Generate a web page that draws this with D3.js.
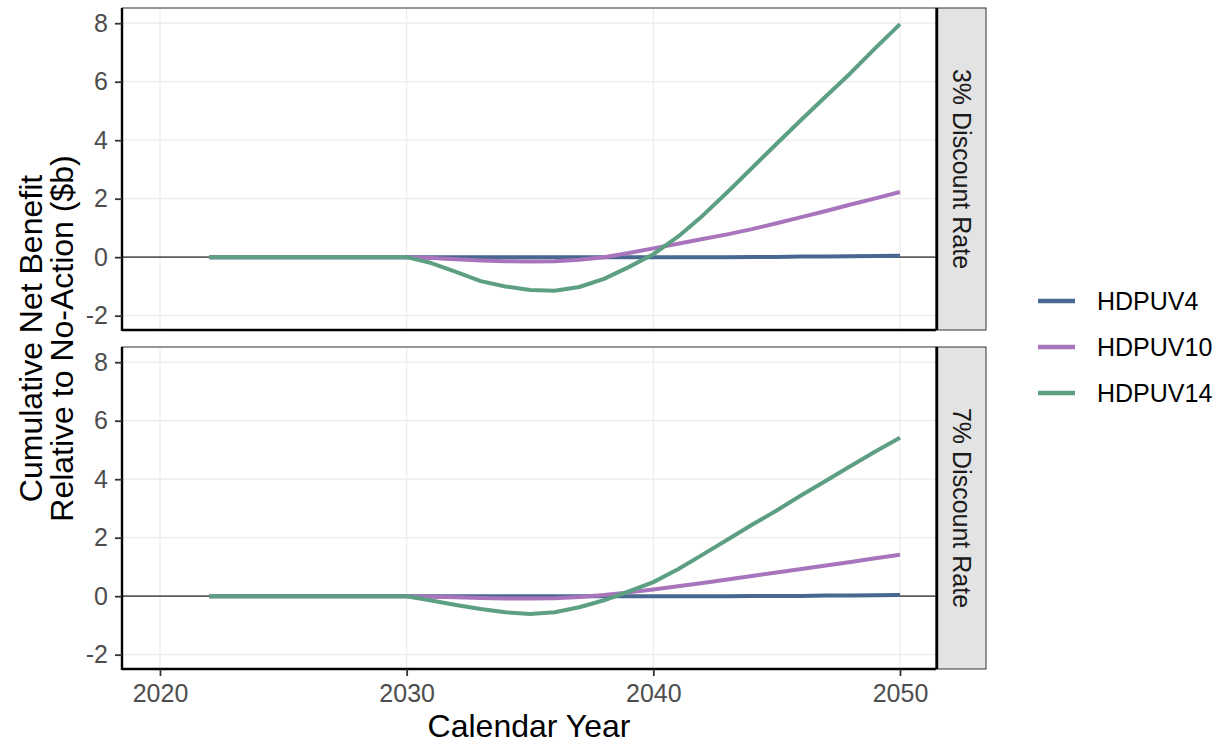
<!DOCTYPE html>
<html>
<head>
<meta charset="utf-8">
<script src="https://cdn.jsdelivr.net/npm/d3@7"></script>
<style>
  body { margin: 0; background: #fff; }
  svg { font-family: "Liberation Sans", Arial, sans-serif; }
</style>
</head>
<body>
<svg width="1221" height="744"></svg>
<script>
// data
const years = d3.range(2022, 2051);
const panels = ["3% Discount Rate", "7% Discount Rate"];
const seriesNames = ["HDPUV4", "HDPUV10", "HDPUV14"];
const colors = ["#486892", "#a874bc", "#5c9f82"];

// 3% discount rate, 2022..2050
const hdpuv4_3 = [0, 0, 0, 0, 0, 0, 0, 0, 0, 0, 0, 0, 0, 0, 0, 0, 0, 0, 0, 0, 0, 0, 0.01, 0.01, 0.02, 0.02, 0.03, 0.04, 0.05];
const hdpuv10_3 = [0, 0, 0, 0, 0, 0, 0, 0, 0, -0.03, -0.07, -0.11, -0.14, -0.15, -0.14, -0.09, 0, 0.14, 0.3, 0.46, 0.62, 0.78, 0.96, 1.16, 1.37, 1.58, 1.8, 2.01, 2.23];
const hdpuv14_3 = [0, 0, 0, 0, 0, 0, 0, 0, 0, -0.2, -0.5, -0.82, -1.0, -1.12, -1.15, -1.02, -0.74, -0.34, 0.1, 0.7, 1.42, 2.22, 3.05, 3.88, 4.7, 5.5, 6.3, 7.15, 7.97];

// 7% discount rate, 2022..2050
const hdpuv4_7 = [0, 0, 0, 0, 0, 0, 0, 0, 0, 0, 0, 0, 0, 0, 0, 0, 0, 0, 0, 0, 0, 0, 0.01, 0.01, 0.01, 0.02, 0.02, 0.03, 0.04];
const hdpuv10_7 = [0, 0, 0, 0, 0, 0, 0, 0, 0, -0.02, -0.04, -0.06, -0.08, -0.08, -0.07, -0.03, 0.04, 0.13, 0.23, 0.34, 0.45, 0.57, 0.69, 0.81, 0.93, 1.05, 1.17, 1.3, 1.42];
const hdpuv14_7 = [0, 0, 0, 0, 0, 0, 0, 0, 0, -0.15, -0.3, -0.44, -0.55, -0.61, -0.55, -0.38, -0.14, 0.16, 0.48, 0.92, 1.42, 1.93, 2.44, 2.93, 3.45, 3.95, 4.45, 4.95, 5.42];

const values = [
  [hdpuv4_3, hdpuv10_3, hdpuv14_3],
  [hdpuv4_7, hdpuv10_7, hdpuv14_7]
];

const xTicks = [2020, 2030, 2040, 2050];
const yTicks = [-2, 0, 2, 4, 6, 8];

var svg = d3.select("svg");

var left = 122, right = 936, stripW = 50;
var panelTops = [8, 347], panelH = 322;

var x = d3.scaleLinear().domain([2018.46, 2051.46]).range([left, right]);

panels.forEach((name, p) => {
  var top = panelTops[p], bottom = top + panelH;
  var y = d3.scaleLinear().domain([-2.49, 8.52]).range([bottom, top]);
  var g = svg.append("g");

  // background + grid
  g.append("rect").attr("x", left).attr("y", top).attr("width", right - left).attr("height", panelH).attr("fill", "#fff");
  g.selectAll(".gy").data(yTicks).enter().append("line")
    .attr("x1", left).attr("x2", right)
    .attr("y1", d => y(d)).attr("y2", d => y(d))
    .attr("stroke", "#ebebeb").attr("stroke-width", 1.2);
  g.selectAll(".gx").data(xTicks).enter().append("line")
    .attr("x1", d => x(d)).attr("x2", d => x(d))
    .attr("y1", top).attr("y2", bottom)
    .attr("stroke", "#ebebeb").attr("stroke-width", 1.2);

  // zero line
  g.append("line")
    .attr("x1", left).attr("x2", right)
    .attr("y1", y(0)).attr("y2", y(0))
    .attr("stroke", "#5e5e5e").attr("stroke-width", 1.8);

  // series
  var line = d3.line().x((d, i) => x(years[i])).y(d => y(d));
  values[p].forEach((vals, s) => {
    g.append("path")
      .datum(vals)
      .attr("d", line)
      .attr("fill", "none")
      .attr("stroke", colors[s])
      .attr("stroke-width", 4)
      .attr("stroke-linejoin", "round");
  });

  // border
  g.append("rect").attr("x", left).attr("y", top).attr("width", right - left).attr("height", panelH)
    .attr("fill", "none").attr("stroke", "#333").attr("stroke-width", 1);
  // axis lines (left, bottom)
  g.append("line").attr("x1", left).attr("x2", left).attr("y1", top).attr("y2", bottom + 1)
    .attr("stroke", "#000").attr("stroke-width", 2.4);
  g.append("line").attr("x1", left).attr("x2", right).attr("y1", bottom).attr("y2", bottom)
    .attr("stroke", "#000").attr("stroke-width", 2.4);

  // y axis
  var yAxis = g.append("g")
    .attr("transform", "translate(" + left + ",0)")
    .call(d3.axisLeft(y).tickValues(yTicks).tickSize(7).tickPadding(7).tickFormat(d3.format("d")));
  yAxis.select(".domain").remove();
  yAxis.selectAll("line").attr("stroke", "#333").attr("stroke-width", 1.8);
  yAxis.selectAll("text").attr("fill", "#4d4d4d").style("font-size", "25px")
    .style("font-family", "Liberation Sans, Arial, sans-serif").text(d => d < 0 ? "-" + Math.abs(d) : d);

  // strip
  g.append("rect").attr("x", right).attr("y", top).attr("width", stripW).attr("height", panelH)
    .attr("fill", "#e3e3e3").attr("stroke", "#333").attr("stroke-width", 1);
  g.append("line").attr("x1", right + 1).attr("x2", right + 1).attr("y1", top).attr("y2", bottom)
    .attr("stroke", "#000").attr("stroke-width", 2.4);
  g.append("text")
    .attr("transform", "translate(" + (right + stripW / 2 + 1) + "," + (top + panelH / 2) + ") rotate(90)")
    .attr("text-anchor", "middle").attr("dy", "0.35em")
    .attr("fill", "#1a1a1a").style("font-size", "25px")
    .text(name);

  // x axis on bottom panel only
  if (p === panels.length - 1) {
    var xAxis = g.append("g")
      .attr("transform", "translate(0," + bottom + ")")
      .call(d3.axisBottom(x).tickValues(xTicks).tickSize(7).tickPadding(8).tickFormat(d3.format("d")));
    xAxis.select(".domain").remove();
    xAxis.selectAll("line").attr("stroke", "#333").attr("stroke-width", 1.8);
    xAxis.selectAll("text").attr("fill", "#4d4d4d").style("font-size", "25px")
      .style("font-family", "Liberation Sans, Arial, sans-serif");
  }
});

// axis titles
svg.append("text")
  .attr("x", (left + right) / 2).attr("y", 737)
  .attr("text-anchor", "middle").style("font-size", "32px").attr("fill", "#000")
  .text("Calendar Year");

var yTitle = svg.append("text")
  .attr("transform", "translate(0," + ((panelTops[0] + panelTops[1] + panelH) / 2) + ") rotate(-90)")
  .attr("text-anchor", "middle").style("font-size", "32px").attr("fill", "#000");
yTitle.append("tspan").attr("x", 0).attr("y", 42).text("Cumulative Net Benefit");
yTitle.append("tspan").attr("x", 0).attr("y", 73).text("Relative to No-Action ($b)");

// legend
var legend = svg.append("g").attr("transform", "translate(1038,301)");
seriesNames.forEach((n, i) => {
  legend.append("line").attr("x1", 0).attr("x2", 37).attr("y1", i * 46).attr("y2", i * 46)
    .attr("stroke", colors[i]).attr("stroke-width", 4.5);
  legend.append("text").attr("x", 59).attr("y", i * 46).attr("dy", "0.35em")
    .style("font-size", "25px").attr("fill", "#000").text(n);
});
</script>
</body>
</html>
